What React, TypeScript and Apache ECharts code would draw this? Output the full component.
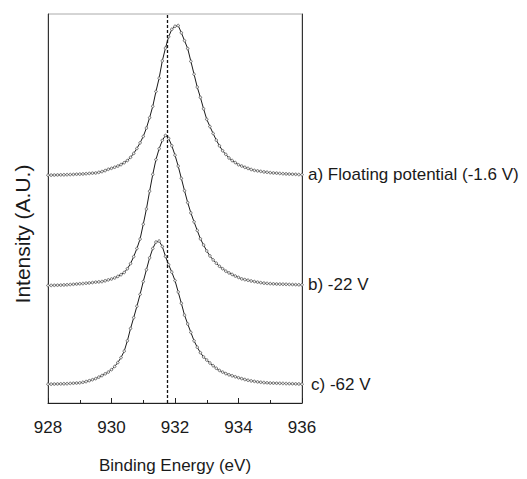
import React, { useEffect, useRef } from "react";
import * as echarts from "echarts";

// Binding energy grid: 928.0 … 936.0 eV, step 0.1 eV (81 samples)
const ENERGY_START = 928;
const ENERGY_STEP = 0.1;

const X_TICKS = [928, 930, 932, 934, 936];
const REFERENCE_LINE_EV = 931.75;

const SERIES_LABELS = ["a) Floating potential (-1.6 V)", "b) -22 V", "c) -62 V"];

// Intensities (arbitrary units, vertically offset as in the figure)
const seriesA = [
  230.7, 230.8, 230.9, 231.0, 231.1, 231.2, 231.3, 231.4, 231.5, 231.7,
  231.8, 232.0, 232.3, 232.5, 232.8, 233.0, 233.6, 234.4, 235.4, 236.7,
  237.7, 238.8, 240.0, 241.5, 243.4, 245.6, 248.8, 252.8, 257.8, 263.5,
  270.0, 278.5, 289.0, 300.5, 315.5, 329.0, 346.5, 359.5, 371.0, 378.5,
  381.5, 382.3, 375.0, 367.0, 359.0, 346.0, 333.0, 320.0, 309.5, 298.0,
  287.3, 280.0, 273.0, 266.3, 260.5, 255.5, 251.8, 248.2, 245.6, 243.5,
  241.3, 240.0, 238.7, 237.6, 236.5, 235.6, 235.1, 234.6, 234.1, 233.7,
  233.3, 233.0, 232.8, 232.5, 232.3, 232.1, 231.9, 231.7, 231.6, 231.4,
  231.3,
];

const seriesB = [
  119.0, 119.1, 119.2, 119.3, 119.4, 119.6, 119.8, 120.0, 120.2, 120.5,
  120.8, 121.0, 121.3, 121.6, 122.0, 122.4, 122.7, 123.0, 123.8, 124.7,
  125.6, 126.7, 128.2, 130.0, 132.2, 136.0, 141.2, 148.3, 156.5, 166.0,
  181.0, 196.5, 214.5, 231.5, 246.5, 257.5, 266.0, 271.0, 268.0, 260.5,
  251.0, 240.0, 227.5, 215.0, 203.0, 192.5, 183.5, 174.8, 166.3, 160.0,
  154.0, 149.0, 145.0, 141.6, 138.5, 136.0, 133.5, 131.8, 130.2, 128.6,
  127.2, 125.7, 125.0, 124.3, 123.6, 123.0, 122.4, 121.9, 121.4, 121.1,
  120.9, 120.7, 120.5, 120.4, 120.3, 120.2, 120.1, 120.0, 119.9, 119.8,
  119.7,
];

const seriesC = [
  19.0, 19.1, 19.2, 19.3, 19.4, 19.5, 19.6, 19.8, 20.0, 20.2,
  20.4, 21.0, 21.7, 22.6, 23.6, 24.7, 26.2, 27.8, 29.5, 31.3,
  33.8, 37.0, 41.0, 46.0, 52.5, 63.0, 75.5, 86.5, 98.0, 110.0,
  123.0, 135.0, 147.0, 156.5, 163.0, 164.0, 158.5, 148.5, 140.0, 132.5,
  124.0, 112.5, 101.0, 89.0, 80.0, 71.5, 63.0, 56.5, 51.0, 46.6,
  43.5, 40.5, 37.8, 35.2, 33.0, 31.3, 29.8, 28.6, 27.6, 26.6,
  25.6, 24.7, 23.8, 23.0, 22.4, 21.9, 21.4, 21.0, 20.7, 20.4,
  20.2, 20.1, 20.0, 19.9, 19.8, 19.7, 19.6, 19.5, 19.4, 19.3,
  19.0,
];

const Y_MIN = 0;
const Y_MAX = 394;

const FONT = "'Liberation Sans', Arial, Helvetica, sans-serif";
const TEXT_COLOR = "#1a1a1a";

function toPairs(values: number[]): [number, number][] {
  return values.map((v, i) => [
    Math.round((ENERGY_START + i * ENERGY_STEP) * 100) / 100,
    v,
  ]);
}

export default function App() {
  const ref = useRef<HTMLDivElement>(null);

  useEffect(() => {
    document.body.style.margin = "0";
    if (!ref.current) return;
    const chart = echarts.init(ref.current, undefined, { renderer: "svg" });

    const makeSeries = (values: number[], label: string, dist: number, withMark: boolean) => ({
      type: "line",
      data: toPairs(values),
      symbol: "circle",
      symbolSize: 2.6,
      showSymbol: true,
      smooth: false,
      lineStyle: { color: "#1a1a1a", width: 1 },
      itemStyle: { color: "#f4f4f4", borderColor: "#555", borderWidth: 0.8 },
      endLabel: {
        show: true,
        formatter: label,
        distance: dist,
        color: TEXT_COLOR,
        fontSize: 17,
        fontFamily: FONT,
      },
      emphasis: { disabled: true },
      clip: false,
      z: 3,
      markLine: withMark
        ? {
            silent: true,
            symbol: "none",
            label: { show: false },
            lineStyle: { color: "#111", type: [3, 2], width: 1.3 },
            data: [{ xAxis: REFERENCE_LINE_EV }],
          }
        : undefined,
    });

    chart.setOption({
      animation: false,
      backgroundColor: "#ffffff",
      grid: {
        left: 48,
        right: 225,
        top: 14,
        bottom: 71,
        show: true,
        borderColor: "#aaaaaa",
        borderWidth: 1,
      },
      xAxis: {
        type: "value",
        min: X_TICKS[0],
        max: X_TICKS[X_TICKS.length - 1],
        interval: 2,
        name: "Binding Energy (eV)",
        nameLocation: "middle",
        nameGap: 54,
        nameTextStyle: { fontSize: 17, fontFamily: FONT, color: TEXT_COLOR },
        axisLine: { show: true, lineStyle: { color: "#222", width: 1 } },
        axisTick: { show: true, inside: true, length: 5, lineStyle: { color: "#222" } },
        minorTick: { show: true, splitNumber: 2, length: 3, lineStyle: { color: "#222" } },
        axisLabel: {
          margin: 16,
          fontSize: 17,
          fontFamily: FONT,
          color: TEXT_COLOR,
        },
        splitLine: { show: false },
      },
      yAxis: [
        {
          type: "value",
          min: Y_MIN,
          max: Y_MAX,
          position: "left",
          axisLine: { show: true, lineStyle: { color: "#333", width: 1 } },
          axisTick: { show: false },
          axisLabel: { show: false },
          splitLine: { show: false },
        },
        {
          type: "value",
          min: Y_MIN,
          max: Y_MAX,
          position: "right",
          axisLine: { show: true, lineStyle: { color: "#333", width: 1 } },
          axisTick: { show: false },
          axisLabel: { show: false },
          splitLine: { show: false },
        },
      ],
      graphic: [
        {
          type: "text",
          x: 22,
          y: 234,
          rotation: Math.PI / 2,
          style: {
            text: "Intensity (A.U.)",
            fontSize: 21,
            fontFamily: FONT,
            fill: TEXT_COLOR,
            textAlign: "center",
            textVerticalAlign: "middle",
          },
        },
      ],
      series: [
        makeSeries(seriesA, SERIES_LABELS[0], 6, true),
        makeSeries(seriesB, SERIES_LABELS[1], 6, false),
        makeSeries(seriesC, SERIES_LABELS[2], 9, false),
      ],
    });

    return () => chart.dispose();
  }, []);

  return <div ref={ref} style={{ width: 527, height: 479 }} />;
}
